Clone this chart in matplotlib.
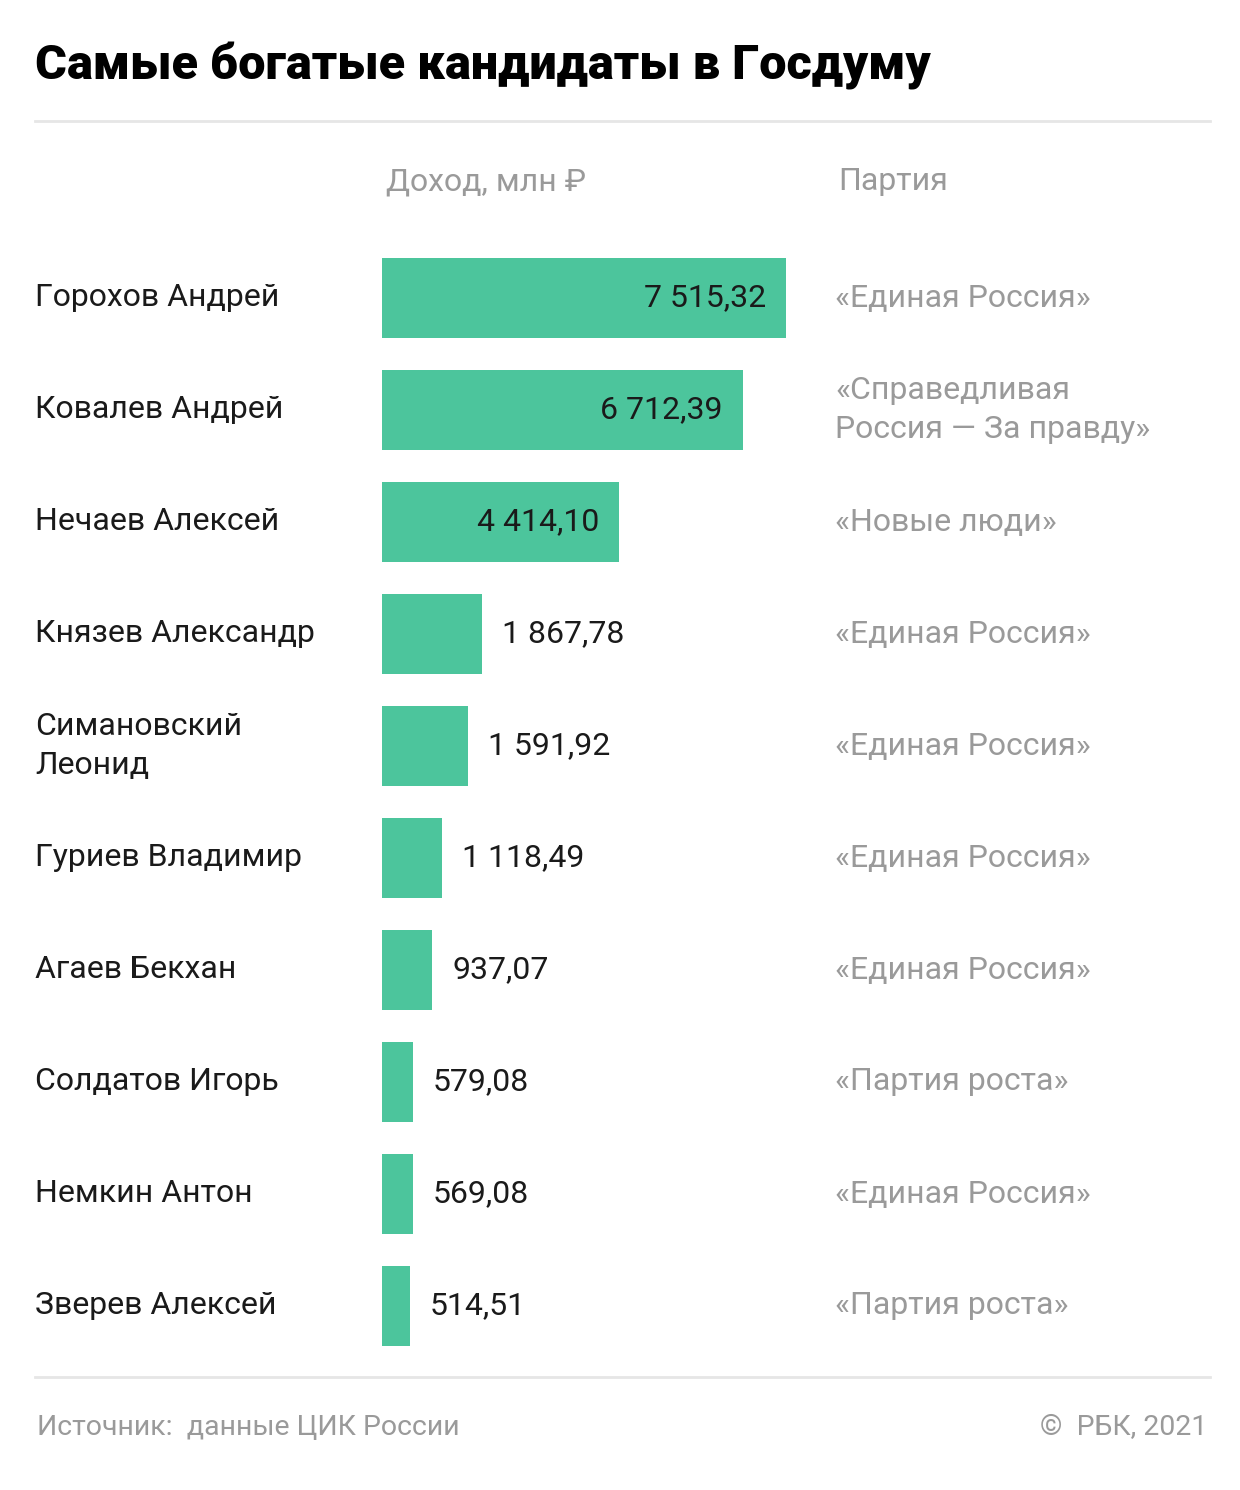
import matplotlib
matplotlib.use("Agg")
import matplotlib.pyplot as plt
from matplotlib.transforms import blended_transform_factory

plt.rcParams["font.family"] = ["Roboto", "DejaVu Sans"]

names = [
    "Горохов Андрей",
    "Ковалев Андрей",
    "Нечаев Алексей",
    "Князев Александр",
    "Симановский\nЛеонид",
    "Гуриев Владимир",
    "Агаев Бекхан",
    "Солдатов Игорь",
    "Немкин Антон",
    "Зверев Алексей",
]
income = [7515.32, 6712.39, 4414.10, 1867.78, 1591.92, 1118.49, 937.07, 579.08, 569.08, 514.51]
parties = [
    "«Единая Россия»",
    "«Справедливая\nРоссия — За правду»",
    "«Новые люди»",
    "«Единая Россия»",
    "«Единая Россия»",
    "«Единая Россия»",
    "«Единая Россия»",
    "«Партия роста»",
    "«Единая Россия»",
    "«Партия роста»",
]

W, H = 1240, 1490
GREEN = "#4cc59c"
GREY = "#9a9a9a"
LINE = "#e6e6e6"
DARK = "#1a1a1a"
FS = 23


def fmt(v):
    s = f"{v:,.2f}".replace(",", " ").replace(".", ",")
    return s


fig = plt.figure(figsize=(W / 100, H / 100), dpi=100)

# bar axes: x from 382px to 786px (0..max), rows centred 298..1306px
top_px, bot_px = 242, 1362
ax = fig.add_axes([382 / W, 1 - bot_px / H, 404 / W, (bot_px - top_px) / H])
ax.set_xlim(0, max(income))
ax.set_ylim(len(names) - 0.5, -0.5)
ax.axis("off")

ys = list(range(len(names)))
ax.barh(ys, income, height=0.72, color=GREEN)

px = 1.0 / 404 * max(income)  # data units per pixel
for y, v in zip(ys, income):
    if v > 3000:
        ax.text(v - 20 * px, y, fmt(v), ha="right", va="center", fontsize=FS, color=DARK)
    else:
        ax.text(v + 20 * px, y, fmt(v), ha="left", va="center", fontsize=FS, color=DARK)

tr = blended_transform_factory(fig.transFigure, ax.transData)
for y, n, p in zip(ys, names, parties):
    ax.text(35 / W, y, n, transform=tr, ha="left", va="center", fontsize=FS,
            color=DARK, linespacing=1.42)
    ax.text(835 / W, y, p, transform=tr, ha="left", va="center", fontsize=FS,
            color=GREY, linespacing=1.42)

# title
fig.text(35 / W, 1 - 80 / H, "Самые богатые кандидаты в Госдуму", ha="left",
         va="baseline", fontsize=35, fontweight="heavy", color="black")

# column headers
fig.text(386 / W, 1 - 182 / H, "Доход, млн ₽", ha="left", va="center",
         fontsize=FS, color=GREY)
fig.text(838 / W, 1 - 182 / H, "Партия", ha="left", va="center",
         fontsize=FS, color=GREY)

# separators
fig.add_artist(plt.Line2D([35 / W, 1210 / W], [1 - 121 / H, 1 - 121 / H],
                          color=LINE, lw=2))
fig.add_artist(plt.Line2D([35 / W, 1210 / W], [1 - 1377 / H, 1 - 1377 / H],
                          color=LINE, lw=2))

# footer
fig.text(37 / W, 1 - 1428 / H, "Источник:  данные ЦИК России", ha="left",
         va="center", fontsize=20.5, color=GREY)
fig.text(1207 / W, 1 - 1428 / H, "©  РБК, 2021", ha="right",
         va="center", fontsize=20.5, color=GREY)

fig.savefig("out.png", dpi=100, facecolor="white")
